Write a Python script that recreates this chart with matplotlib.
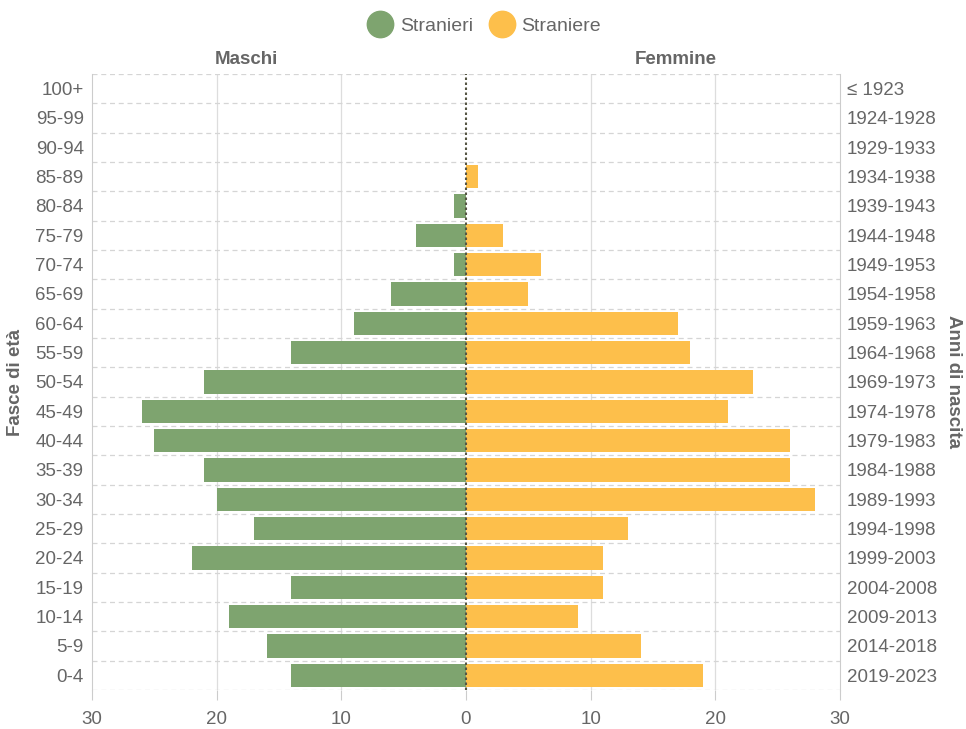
import numpy as np
import matplotlib.pyplot as plt
from matplotlib.lines import Line2D

plt.rcParams['font.family'] = ['Liberation Sans', 'DejaVu Sans']

# classi di età dal basso verso l'alto
eta = ['0-4', '5-9', '10-14', '15-19', '20-24', '25-29', '30-34', '35-39',
       '40-44', '45-49', '50-54', '55-59', '60-64', '65-69', '70-74',
       '75-79', '80-84', '85-89', '90-94', '95-99', '100+']
anni = ['2019-2023', '2014-2018', '2009-2013', '2004-2008', '1999-2003',
        '1994-1998', '1989-1993', '1984-1988', '1979-1983', '1974-1978',
        '1969-1973', '1964-1968', '1959-1963', '1954-1958', '1949-1953',
        '1944-1948', '1939-1943', '1934-1938', '1929-1933', '1924-1928',
        '≤ 1923']
maschi = [14, 16, 19, 14, 22, 17, 20, 21, 25, 26, 21, 14, 9, 6, 1, 4, 1, 0, 0, 0, 0]
femmine = [19, 14, 9, 11, 11, 13, 28, 26, 26, 21, 23, 18, 17, 5, 6, 3, 0, 1, 0, 0, 0]

verde = '#7ea46f'
giallo = '#fdbf4b'
grigio = '#666666'
fs = 13.5

fig = plt.figure(figsize=(9.66, 7.29), dpi=100)
ax = fig.add_axes([0.0952, 0.0535, 0.7744, 0.845])

y = np.arange(len(eta))
ax.barh(y, -np.array(maschi), height=0.8, color=verde, zorder=2)
ax.barh(y, femmine, height=0.8, color=giallo, zorder=2)

ax.set_xlim(-30, 30)
ax.set_ylim(-0.5, len(eta) - 0.5)
ax.set_xticks([-30, -20, -10, 0, 10, 20, 30])
ax.set_xticklabels(['30', '20', '10', '0', '10', '20', '30'])
ax.set_yticks(y)
ax.set_yticklabels(eta)

# griglia
for v in [-20, -10, 10, 20]:
    ax.axvline(v, color='#dddddd', lw=0.9, zorder=1)
for b in np.arange(-0.5, len(eta), 1):
    ax.axhline(b, color='#d5d5d5', lw=0.9, ls=(0, (4, 3)), zorder=1)
ax.axvline(0, color='#555544', lw=1.5, ls=(0, (1.2, 1.2)), zorder=3)

for s in ['top', 'bottom']:
    ax.spines[s].set_visible(False)
for s in ['left', 'right']:
    ax.spines[s].set_color('#cccccc')

ax.tick_params(axis='y', length=0, pad=6, labelcolor=grigio, labelsize=fs)
ax.tick_params(axis='x', colors='#cccccc', labelcolor=grigio, labelsize=fs,
               length=7, pad=8)

ax2 = ax.twinx()
ax2.set_ylim(ax.get_ylim())
ax2.set_yticks(y)
ax2.set_yticklabels(anni)
ax2.tick_params(axis='y', length=0, pad=5, labelcolor=grigio, labelsize=fs)
for s in ['top', 'bottom', 'left', 'right']:
    ax2.spines[s].set_visible(False)

ax.set_ylabel('Fasce di età', color=grigio, fontsize=fs, fontweight='bold', labelpad=8)
ax2.set_ylabel('Anni di nascita', color=grigio, fontsize=fs, fontweight='bold',
               rotation=-90, labelpad=18)

ax.text(-17.6, len(eta) - 0.5 + 0.2, 'Maschi', ha='center', va='bottom',
        color=grigio, fontsize=fs, fontweight='bold')
ax.text(16.8, len(eta) - 0.5 + 0.2, 'Femmine', ha='center', va='bottom',
        color=grigio, fontsize=fs, fontweight='bold')

handles = [Line2D([], [], marker='o', ls='', markersize=19, color=verde),
           Line2D([], [], marker='o', ls='', markersize=19, color=giallo)]
fig.legend(handles, ['Stranieri', 'Straniere'], loc='center', bbox_to_anchor=(0.5, 0.964),
           ncol=2, frameon=False, fontsize=14, labelcolor=grigio,
           handletextpad=0.2, columnspacing=0.7, handlelength=1.6)

fig.savefig('out.png', dpi=100)
